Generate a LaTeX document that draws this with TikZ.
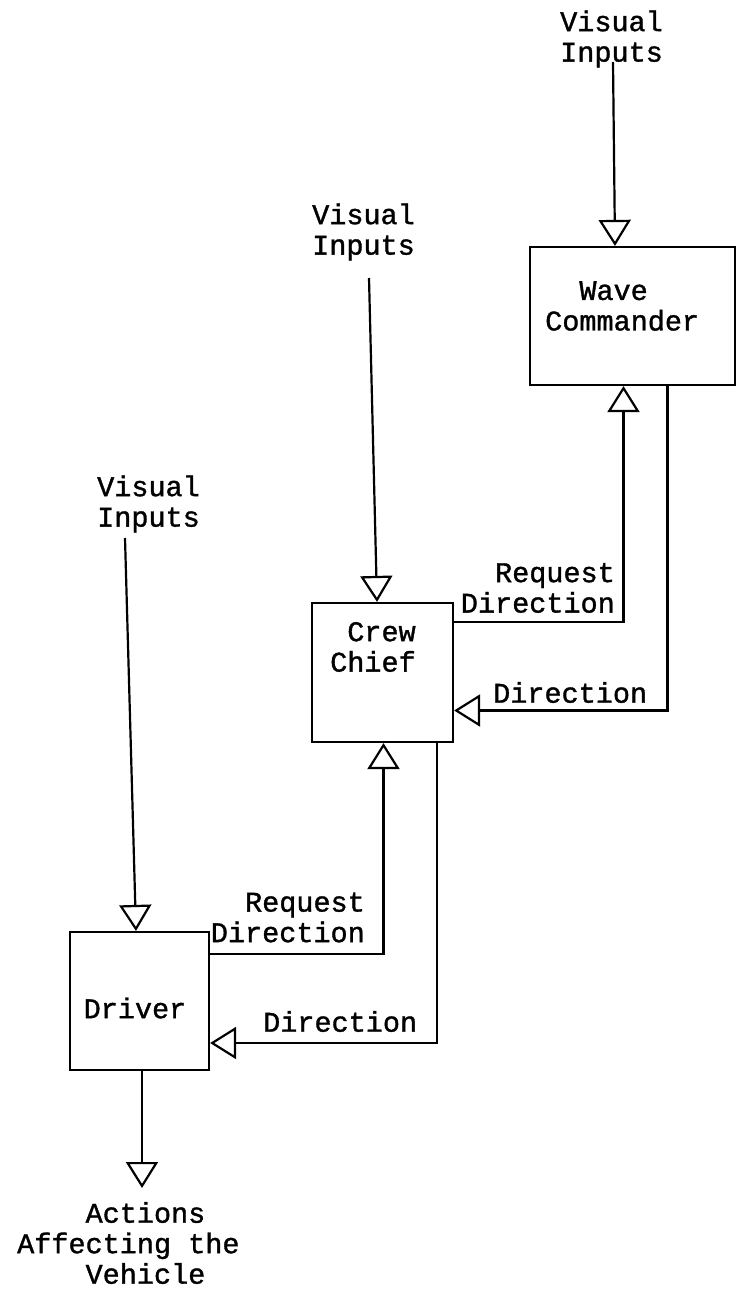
\documentclass[tikz,border=0pt]{standalone}
\usepackage{fontspec}
\newfontfamily\tw[FakeBold=1.2]{Liberation Mono}
\usetikzlibrary{arrows.meta}
\tikzset{
  box/.style={draw, line width=2.2pt, inner sep=0pt},
  lbl/.style={font=\tw\fontsize{28.5}{30.5}\selectfont, inner sep=0pt},
  conn/.style={line width=2.2pt},
  arr/.style={conn, -{Triangle[open, length=26pt, width=32pt, line width=2.2pt]}}
}
\begin{document}
\begin{tikzpicture}[x=1pt, y=-1pt]
\useasboundingbox (0,0) rectangle (736,1289);
% boxes
\node[box, minimum width=205pt, minimum height=138pt] (wc) at (632.5,316) {};
\node[box, minimum width=141pt, minimum height=139pt] (cc) at (382.5,672.5) {};
\node[box, minimum width=139pt, minimum height=138pt] (dr) at (139.5,1001) {};
% box texts
\node[lbl, anchor=west, align=left] (wct) at (545,306) {\phantom{AA}Wave\\Commander};
\node[lbl, anchor=west, align=left] (cct) at (330,647) {\phantom{A}Crew\\Chief};
\node[lbl] (drt) at (135,1008) {Driver};
% inputs
\node[lbl, anchor=west, align=left] (vi3) at (560,39) {Visual\\Inputs};
\node[lbl, anchor=west, align=left] (vi2) at (312,232) {Visual\\Inputs};
\node[lbl, anchor=west, align=left] (vi1) at (97,504) {Visual\\Inputs};
\node[lbl, anchor=west, align=left] (out) at (17,1243) {\phantom{AAAA}Actions\\Affecting the\\\phantom{AAAA}Vehicle};
% connector labels
\node[lbl, anchor=east, align=right] (rq2) at (615,588) {Request\\Direction};
\node[lbl, anchor=west] (dir2) at (493,692.5) {Direction};
\node[lbl, anchor=east, align=right] (rq1) at (365,917.5) {Request\\Direction};
\node[lbl, anchor=west] (dir1) at (263,1021.5) {Direction};
% free ends
\coordinate (s3) at (613,62);
\coordinate (s2) at (369,278);
\coordinate (s1) at (125,538);
\coordinate (o1) at (142,1188);
% connectors
\draw[arr] (s3) -- ([xshift=-17.5pt]wc.north);
\draw[arr] (s2) -- ([xshift=-5.5pt]cc.north);
\draw[arr] (s1) -- ([xshift=-3.5pt]dr.north);
\draw[arr] ([yshift=-20pt]cc.north east) -| ([xshift=-9pt]wc.south);
\draw[arr] ([xshift=35pt]wc.south) |- ([yshift=-38pt]cc.east);
\draw[arr] ([yshift=-23pt]dr.north east) -| ([xshift=1pt]cc.south);
\draw[arr] ([xshift=54.5pt]cc.south) |- ([yshift=-42pt]dr.east);
\draw[arr] ([xshift=2.5pt]dr.south) -- (o1);
\end{tikzpicture}
\end{document}
